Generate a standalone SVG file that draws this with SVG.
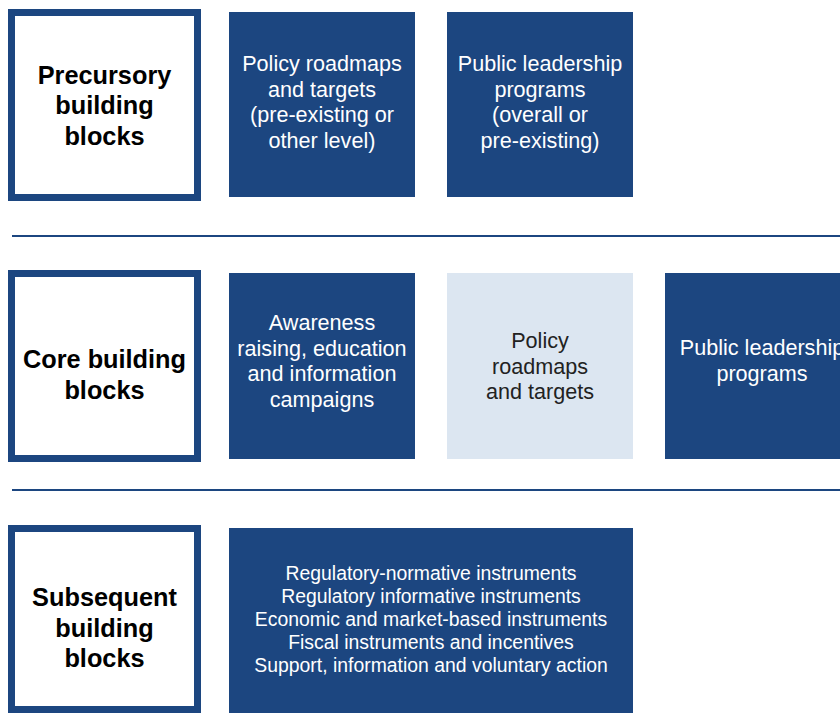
<svg xmlns="http://www.w3.org/2000/svg" width="840" height="713" viewBox="0 0 840 713">
<style>
.lbl{fill:#fff;stroke:#1c4680;stroke-width:7}
.blue{fill:#1c4680}
.light{fill:#dce6f1}
.h{font-family:"Liberation Sans",Arial,sans-serif;font-weight:bold;font-size:25.3px;fill:#000;text-anchor:middle}
.t{font-family:"Liberation Sans",Arial,sans-serif;font-size:21.6px;fill:#fff;text-anchor:middle}
.td{font-family:"Liberation Sans",Arial,sans-serif;font-size:21.6px;fill:#222;text-anchor:middle}
.s{font-family:"Liberation Sans",Arial,sans-serif;font-size:19.4px;fill:#fff;text-anchor:middle}
.sep{stroke:#1c4680;stroke-width:2.2}
</style>
<rect width="840" height="713" fill="#fff"/>
<g id="connectors">
<line class="sep" x1="12" y1="236" x2="840" y2="236"/>
<line class="sep" x1="12" y1="490" x2="840" y2="490"/>
</g>
<g id="precursory">
<rect class="lbl" x="11.5" y="12.5" width="186" height="185"/>
<text class="h" x="104.5" y="83.5">Precursory</text>
<text class="h" x="104.5" y="114">building</text>
<text class="h" x="104.5" y="144.5">blocks</text>
</g>
<g id="pre-policy">
<rect class="blue" x="229" y="12" width="186" height="185"/>
<text class="t" x="322" y="71">Policy roadmaps</text>
<text class="t" x="322" y="96.5">and targets</text>
<text class="t" x="322" y="122">(pre-existing or</text>
<text class="t" x="322" y="147.5">other level)</text>
</g>
<g id="pre-leadership">
<rect class="blue" x="447" y="12" width="186" height="185"/>
<text class="t" x="540" y="71">Public leadership</text>
<text class="t" x="540" y="96.5">programs</text>
<text class="t" x="540" y="122">(overall or</text>
<text class="t" x="540" y="147.5">pre-existing)</text>
</g>
<g id="core">
<rect class="lbl" x="11.5" y="273.5" width="186" height="185"/>
<text class="h" x="104.5" y="368">Core building</text>
<text class="h" x="104.5" y="398.5">blocks</text>
</g>
<g id="core-awareness">
<rect class="blue" x="229" y="273" width="186" height="186"/>
<text class="t" x="322" y="330">Awareness</text>
<text class="t" x="322" y="355.5">raising, education</text>
<text class="t" x="322" y="381">and information</text>
<text class="t" x="322" y="406.5">campaigns</text>
</g>
<g id="core-policy">
<rect class="light" x="447" y="273" width="186" height="186"/>
<text class="td" x="540" y="348">Policy</text>
<text class="td" x="540" y="373.5">roadmaps</text>
<text class="td" x="540" y="399">and targets</text>
</g>
<g id="core-leadership">
<rect class="blue" x="665" y="273" width="186" height="186"/>
<text class="t" x="762" y="355">Public leadership</text>
<text class="t" x="762" y="380.5">programs</text>
</g>
<g id="subsequent">
<rect class="lbl" x="11.5" y="528.5" width="186" height="181"/>
<text class="h" x="104.5" y="605.5">Subsequent</text>
<text class="h" x="104.5" y="636.5">building</text>
<text class="h" x="104.5" y="667">blocks</text>
</g>
<g id="sub-instruments">
<rect class="blue" x="229" y="528" width="404" height="190"/>
<text class="s" x="431" y="580">Regulatory-normative instruments</text>
<text class="s" x="431" y="603">Regulatory informative instruments</text>
<text class="s" x="431" y="626">Economic and market-based instruments</text>
<text class="s" x="431" y="649">Fiscal instruments and incentives</text>
<text class="s" x="431" y="672">Support, information and voluntary action</text>
</g>
</svg>
